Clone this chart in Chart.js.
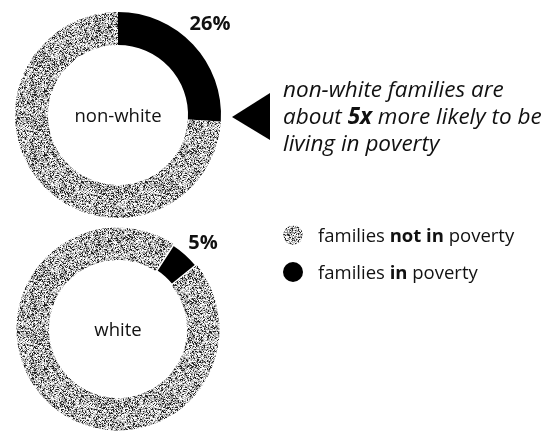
<!DOCTYPE html>
<html><head><meta charset="utf-8">
<script src="https://cdn.jsdelivr.net/npm/chart.js@4.4.1/dist/chart.umd.min.js"></script>
<style>
html,body{margin:0;padding:0;background:#fff;width:554px;height:433px;overflow:hidden;font-family:"Open Sans",sans-serif;color:#111;}
canvas{position:absolute;}
#annot{position:absolute;left:283px;top:75px;font-style:italic;font-size:22.5px;line-height:27px;white-space:nowrap;}
#annot b{font-weight:700;}
.leg{position:absolute;left:318px;font-size:18.5px;line-height:20px;white-space:nowrap;}
.sw{position:absolute;width:20px;height:20px;border-radius:50%;}
svg{position:absolute;left:0;top:0;}
</style></head>
<body>
<canvas id="c1" width="230" height="230" style="left:3px;top:0px"></canvas>
<canvas id="c2" width="230" height="230" style="left:3px;top:214px"></canvas>
<svg width="554" height="433"><polygon points="232,117 270,93 270,140" fill="#000"/></svg>
<div id="annot">non-white families are<br>about <b>5x</b> more likely to be<br>living in poverty</div>
<canvas id="sw1" class="sw" width="20" height="20" style="left:283px;top:225px"></canvas>
<div class="sw" style="left:283px;top:262px;background:#000"></div>
<div class="leg" style="top:225px">families <b>not in</b> poverty</div>
<div class="leg" style="top:262px">families <b>in</b> poverty</div>
<script>
const groups = ['non-white', 'white'];
const categories = ['families in poverty', 'families not in poverty'];
const inPoverty = [26, 5];
const notInPoverty = [74, 95];
const pctLabels = ['26%', '5%'];

function makePattern() {
  const c = document.createElement('canvas');
  c.width = 64; c.height = 64;
  const g = c.getContext('2d');
  const img = g.createImageData(64, 64);
  for (let y = 0; y < 64; y++) for (let x = 0; x < 64; x++) {
    let h = (x * 374761393 + y * 668265263) >>> 0;
    h = ((h ^ (h >>> 13)) * 1274126177) >>> 0;
    h = (h ^ (h >>> 16)) >>> 0;
    const r = (h % 1000) / 1000;
    let v = r < 0.20 ? 35 : r < 0.45 ? 140 : r < 0.72 ? 195 : 248;
    const i = (y * 64 + x) * 4;
    img.data[i] = img.data[i + 1] = img.data[i + 2] = v; img.data[i + 3] = 255;
  }
  g.putImageData(img, 0, 0);
  return c;
}
const patCanvas = makePattern();

const labelPlugin = {
  id: 'donutLabels',
  afterDraw(chart, args, opts) {
    const arc = chart.getDatasetMeta(0).data[0];
    const x = arc.x, y = arc.y;
    const ctx = chart.ctx;
    ctx.save();
    ctx.fillStyle = '#111';
    ctx.textAlign = 'center';
    ctx.textBaseline = 'middle';
    ctx.font = '18.5px "Open Sans"';
    ctx.fillText(opts.center, x, y + 2);
    ctx.font = 'bold 20px "Open Sans"';
    ctx.fillText(opts.pct, x + opts.dx, y + opts.dy);
    ctx.restore();
  }
};

function makeChart(id, idx, opts) {
  const ctx = document.getElementById(id).getContext('2d');
  const pat = ctx.createPattern(patCanvas, 'repeat');
  return new Chart(ctx, {
    type: 'doughnut',
    data: {
      labels: categories,
      datasets: [{
        data: [inPoverty[idx], notInPoverty[idx]],
        backgroundColor: ['#000', pat],
        borderColor: '#fff',
        borderWidth: opts.bw
      }]
    },
    options: {
      responsive: false,
      animation: false,
      devicePixelRatio: 1,
      events: [],
      cutout: '68%',
      rotation: opts.rotation,
      layout: { padding: opts.pad },
      plugins: {
        legend: { display: false },
        tooltip: { enabled: false },
        donutLabels: { center: groups[idx], pct: pctLabels[idx], dx: opts.dx, dy: opts.dy }
      }
    },
    plugins: [labelPlugin]
  });
}

makeChart('c1', 0, { rotation: 0, pad: 12, bw: 0, dx: 92, dy: -91 });
makeChart('c2', 1, { rotation: 33, pad: 12, bw: [3, 0], dx: 85, dy: -86 });

const sw = document.getElementById('sw1').getContext('2d');
sw.fillStyle = sw.createPattern(patCanvas, 'repeat');
sw.beginPath(); sw.arc(10, 10, 10, 0, Math.PI * 2); sw.fill();
</script>
</body></html>
